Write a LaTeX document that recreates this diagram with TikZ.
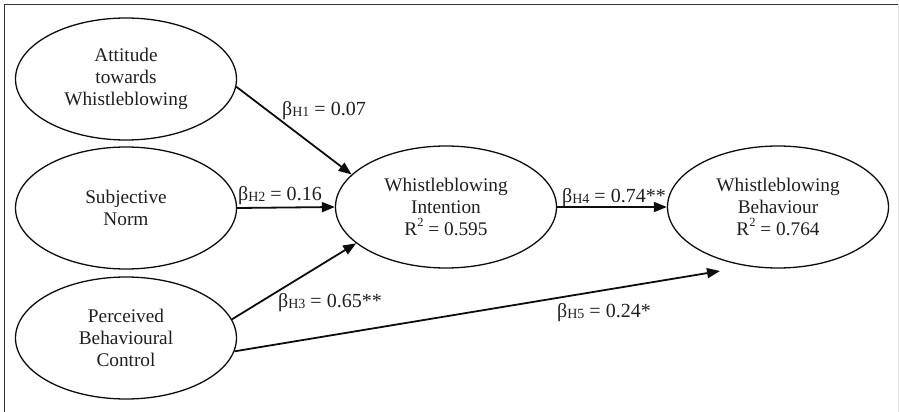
\documentclass[tikz,border=0pt]{standalone}
\usepackage{fontspec}
\setmainfont{Liberation Serif}
\usetikzlibrary{shapes.geometric,arrows.meta}
\newcommand{\bh}[2]{β\raisebox{-0.08em}{\fontsize{14}{14}\selectfont H#1} = #2}
\newcommand{\rsq}[1]{R\raisebox{0.45em}{\fontsize{12.5}{12.5}\selectfont 2} = #1}
\tikzset{
  construct/.style={ellipse, draw=black!95, line width=1.3pt, minimum width=221pt, minimum height=122pt, inner sep=0pt, align=center, text=black!88, font=\fontsize{19.3}{22}\selectfont},
  path/.style={line width=1.8pt, draw=black!95, -{Triangle[length=13pt,width=10pt]}},
  coef/.style={anchor=base west, inner sep=0pt, text=black!88, font=\fontsize{20}{22}\selectfont},
  frame/.style={line width=1pt, draw=black!80}
}
\begin{document}
\begin{tikzpicture}[x=1pt,y=-1pt]
\useasboundingbox (0,0) rectangle (899,412);
\draw[frame] (4.5,412) -- (4.5,4.5) -- (898,4.5);
\draw[line width=0.8pt, draw=black!12] (898,4.5) -- (898,412);

\node[construct] (att) at (126,79) {Attitude\\towards\\Whistleblowing};
\node[construct] (sub) at (126,208) {Subjective\\Norm};
\node[construct] (pbc) at (126,338) {Perceived\\Behavioural\\Control};
\node[construct] (int) at (446,207) {Whistleblowing\\Intention\\\rsq{0.595}};
\node[construct] (beh) at (778,207) {Whistleblowing\\Behaviour\\\rsq{0.764}};
\coordinate (h5end) at (720,271);

\draw[path] (att.-4) -- (int.161.6);
\draw[path] (sub.east) -- (int.west);
\draw[path] (pbc.10.7) -- (int.202.7);
\draw[path] (int.east) -- (beh.west);
\draw[path] (pbc.-7.7) -- (h5end);

\node[coef] (l1) at (282,115) {\bh{1}{0.07}};
\node[coef] (l2) at (238,200) {\bh{2}{0.16}};
\node[coef] (l3) at (278,307) {\bh{3}{0.65**}};
\node[coef] (l4) at (562,202) {\bh{4}{0.74**}};
\node[coef] (l5) at (557,317) {\bh{5}{0.24*}};
\end{tikzpicture}
\end{document}
